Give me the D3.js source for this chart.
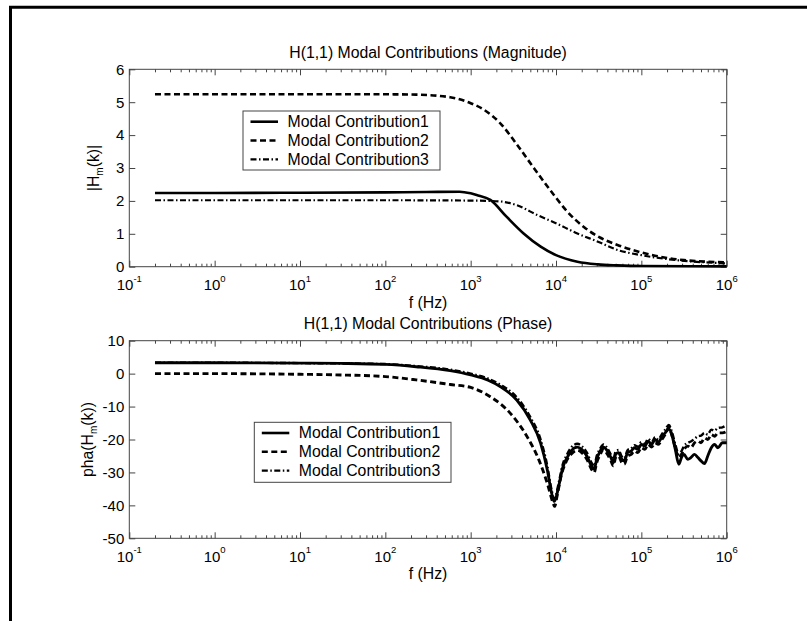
<!DOCTYPE html>
<html>
<head>
<meta charset="utf-8">
<script src="https://cdn.jsdelivr.net/npm/d3@7"></script>
<style>
  body { margin: 0; background: #fff; }
  svg { display: block; font-family: "Liberation Sans", Arial, Helvetica, sans-serif; }
</style>
</head>
<body>
<svg width="807" height="621"></svg>
<script>
// Nomes das séries (legenda).
const seriesNames = ["Modal Contribution1", "Modal Contribution2", "Modal Contribution3"];

// Magnitude |Hm(k)| - frequências (Hz) e valores.
const magFreq1 = [0.2, 1, 10, 100, 300, 741, 1000, 1175, 1700, 2630, 4170, 6610, 1e4, 1.78e4, 3.1e4, 5.2e4, 1e5, 1e6];
const magVal1 = [2.24, 2.24, 2.25, 2.26, 2.27, 2.28, 2.23, 2.18, 2.03, 1.52, 1.01, 0.61, 0.35, 0.15, 0.07, 0.04, 0.02, 0.01];
const magFreq2 = [0.2, 10, 100, 230, 575, 1000, 1413, 2239, 3467, 5495, 8710, 13490, 21380, 33110, 52480, 97720, 204200, 316200, 1e6];
const magVal2 = [5.24, 5.24, 5.24, 5.23, 5.15, 4.97, 4.78, 4.35, 3.72, 3.0, 2.3, 1.68, 1.2, 0.88, 0.66, 0.44, 0.26, 0.2, 0.13];
const magFreq3 = [0.2, 10, 100, 1000, 1700, 2450, 3470, 6030, 1e4, 1.78e4, 3.1e4, 5.25e4, 1e5, 2.04e5, 1e6];
const magVal3 = [2.02, 2.02, 2.02, 2.01, 2.0, 1.97, 1.87, 1.57, 1.32, 1.01, 0.76, 0.51, 0.35, 0.23, 0.1];

// Fase pha(Hm(k)) - frequências (Hz) e valores.
const phaFreqA = [0.2, 1, 10, 30, 100, 230, 575, 1000, 1600, 2240, 3470, 5000, 6600, 7900, 8900, 9500,
  1.1e4, 1.2e4, 1.35e4, 1.5e4, 1.78e4, 2e4, 2.3e4, 2.6e4, 2.8e4, 3e4, 3.3e4, 3.6e4, 4e4, 4.4e4,
  4.7e4, 5e4, 5.4e4, 5.9e4, 6.3e4, 6.9e4, 7.6e4, 8.3e4, 9.1e4, 1e5, 1.1e5, 1.2e5, 1.32e5, 1.45e5,
  1.58e5, 1.74e5, 1.9e5, 2.1e5, 2.3e5, 2.5e5, 2.75e5, 2.95e5, 3.16e5, 3.5e5, 3.8e5, 4.2e5, 4.6e5,
  5e5, 5.5e5, 6e5, 6.6e5, 7.2e5, 7.9e5, 8.9e5, 1e6];
const phaVal1 = [3.3, 3.3, 3.2, 3.1, 2.8, 2.1, 0.9, -0.4, -2.0, -4.0, -8.0, -14.1, -21.1, -29.2, -36.4, -38.8,
  -33, -28.5, -25.5, -23.5, -22.3, -23, -25, -28, -29, -26, -23.5, -22.3, -23.5, -25.5,
  -27, -24.5, -24, -26, -26.5, -24, -23.5, -22.5, -23, -21.5, -22, -20.5, -21.5, -20,
  -20.8, -19.2, -18, -16.8, -19, -23, -27.5, -25.5, -24.5, -26, -25.5, -24.5, -25.5,
  -26.5, -27.3, -25, -22.5, -21.5, -22.5, -21, -21];
const phaVal3 = [3.3, 3.3, 3.2, 3.1, 2.9, 2.3, 1.2, 0, -1.5, -3.4, -7.2, -13.2, -20, -28, -35.5, -38,
  -32, -27.5, -24.5, -22.5, -21.3, -22, -24, -27, -28, -25, -22.7, -21.5, -22.7, -24.6,
  -26, -23.6, -23.2, -25.2, -25.7, -23.2, -22.7, -21.7, -22.2, -20.8, -21.3, -19.8, -20.8, -19.3,
  -20, -18.4, -17, -15.6, -18, -21.5, -24.5, -23.5, -22, -21, -20.6, -19.8, -19,
  -18.8, -18, -18.5, -17, -17.3, -16.5, -16.3, -15.6];
const phaFreqB = [0.2, 1, 10, 30, 100, 230, 575, 1000, 1700, 2900, 4600, 6300, 7900, 9300, 9600,
  1.05e4, 1.15e4, 1.3e4, 1.5e4, 1.78e4, 2e4, 2.3e4, 2.6e4, 2.8e4, 3e4, 3.3e4, 3.6e4, 4e4, 4.4e4, 4.7e4,
  5e4, 5.4e4, 5.9e4, 6.3e4, 6.9e4, 7.6e4, 8.3e4, 9.1e4, 1e5, 1.1e5, 1.2e5, 1.32e5, 1.45e5, 1.58e5,
  1.74e5, 1.9e5, 2.1e5, 2.3e5, 2.5e5, 2.75e5, 2.95e5, 3.16e5, 3.5e5, 3.8e5, 4.2e5, 4.6e5, 5e5,
  5.5e5, 6e5, 6.6e5, 7.2e5, 7.9e5, 8.9e5, 1e6];
const phaVal2 = [0, 0, -0.2, -0.4, -0.9, -1.9, -3.3, -4.2, -7, -12, -19.2, -26.2, -33.3, -39.5, -40.3,
  -36, -31, -27, -24.5, -23.3, -24, -26, -29, -30, -27, -24.5, -23, -24.5, -26.5, -28,
  -25.5, -25, -27, -27.5, -25, -24.5, -23.5, -24, -22.5, -23, -21.5, -22.3, -21, -21.5,
  -20, -18.5, -16.3, -19, -22.5, -25.5, -24.5, -23, -22, -22.5, -21, -20.5, -21,
  -19.5, -20, -18.5, -19, -18, -18, -17.5];

// Ticks.
const xDecades = [1e-1, 1e0, 1e1, 1e2, 1e3, 1e4, 1e5, 1e6];
const xExponents = ["-1", "0", "1", "2", "3", "4", "5", "6"];
const magTicks = [0, 1, 2, 3, 4, 5, 6];
const phaTicks = [-50, -40, -30, -20, -10, 0, 10];

const svg = d3.select("svg");
const axisColor = "#444";
const fontSize = 15.8;

// Moldura (esquerda e topo).
svg.append("path")
  .attr("d", "M10.5,621V7.3H807")
  .attr("fill", "none")
  .attr("stroke", "#000")
  .attr("stroke-width", 3);

// Escala X (log), comum aos dois gráficos.
const x = d3.scaleLog().domain([0.1, 1e6]).range([129.3, 726.7]);
const xMinor = [];
for (let k = -1; k < 6; k++) for (let m = 2; m <= 9; m++) xMinor.push(m * Math.pow(10, k));

// Estilos das linhas.
const styles = [
  { dash: null, width: 2.6 },
  { dash: "6,3.5", width: 2.6 },
  { dash: "6,2.5,1.5,2.5", width: 2.2 }
];

function zip(f, v) { return f.map((d, i) => [d, v[i]]); }

function drawPanel(y, yTicks, title, yLabelA, yLabelB, yLabelX, series, legend, lineScale) {
  const g = svg.append("g");
  const [x0, x1] = x.range();
  const [yb, yt] = y.range();

  // Caixa dos eixos.
  g.append("rect")
    .attr("x", x0).attr("y", yt)
    .attr("width", x1 - x0).attr("height", yb - yt)
    .attr("fill", "none").attr("stroke", axisColor);

  const clean = a => { a.select(".domain").remove(); a.selectAll("line").attr("stroke", axisColor); };

  // Ticks para dentro, nos quatro lados.
  [[d3.axisBottom, yb], [d3.axisTop, yt]].forEach(([ax, pos]) => {
    g.append("g").attr("transform", `translate(0,${pos})`)
      .call(ax(x).tickValues(xDecades).tickSize(-6).tickFormat("")).call(clean);
    g.append("g").attr("transform", `translate(0,${pos})`)
      .call(ax(x).tickValues(xMinor).tickSize(-3).tickFormat("")).call(clean);
  });
  [[d3.axisLeft, x0], [d3.axisRight, x1]].forEach(([ax, pos]) => {
    g.append("g").attr("transform", `translate(${pos},0)`)
      .call(ax(y).tickValues(yTicks).tickSize(-6).tickFormat("")).call(clean);
  });

  // Rótulos do eixo X (10^n).
  xDecades.forEach((d, i) => {
    const t = g.append("text")
      .attr("x", x(d)).attr("y", yb + 23.3)
      .attr("text-anchor", "middle")
      .attr("font-size", 15);
    t.append("tspan").text("10");
    t.append("tspan").attr("dy", -8.5).attr("font-size", 9.5).text(xExponents[i]);
  });

  // Rótulos do eixo Y.
  g.selectAll(".ylab").data(yTicks).enter().append("text")
    .attr("x", x0 - 5)
    .attr("y", d => y(d) + 5.3)
    .attr("text-anchor", "end")
    .attr("font-size", 15)
    .text(d => String(d));

  // Título e rótulo X.
  g.append("text")
    .attr("x", (x0 + x1) / 2).attr("y", yt - 11.5)
    .attr("text-anchor", "middle").attr("font-size", fontSize)
    .text(title);
  g.append("text")
    .attr("x", (x0 + x1) / 2).attr("y", yb + 41)
    .attr("text-anchor", "middle").attr("font-size", fontSize)
    .text("f (Hz)");

  // Rótulo Y com subscrito m.
  const yl = g.append("text")
    .attr("transform", `translate(${yLabelX},${(yt + yb) / 2}) rotate(-90)`)
    .attr("text-anchor", "middle").attr("font-size", fontSize);
  yl.append("tspan").text(yLabelA);
  yl.append("tspan").attr("dy", 4).attr("font-size", 10).text("m");
  yl.append("tspan").attr("dy", -4).text(yLabelB);

  // Curvas.
  const line = d3.line()
    .x(d => x(d[0]))
    .y(d => y(d[1]))
    .curve(d3.curveMonotoneX);
  series.forEach((s, i) => {
    g.append("path")
      .datum(s)
      .attr("d", line)
      .attr("fill", "none")
      .attr("stroke", "#000")
      .attr("stroke-width", styles[i].width * lineScale)
      .attr("stroke-dasharray", styles[i].dash)
      .attr("stroke-linejoin", "round");
  });

  // Legenda.
  const lg = g.append("g").attr("transform", `translate(${legend.x},${legend.y})`);
  lg.append("rect")
    .attr("width", legend.w).attr("height", legend.h)
    .attr("fill", "#fff").attr("stroke", axisColor);
  seriesNames.forEach((name, i) => {
    const ry = 10.7 + i * 18.8;
    lg.append("line")
      .attr("x1", 7.5).attr("x2", 35).attr("y1", ry).attr("y2", ry)
      .attr("stroke", "#000")
      .attr("stroke-width", styles[i].width)
      .attr("stroke-dasharray", styles[i].dash);
    lg.append("text")
      .attr("x", 44.5).attr("y", ry + 5.5)
      .attr("font-size", fontSize)
      .text(name);
  });
}

// Gráfico de magnitude.
const yMag = d3.scaleLinear().domain([0, 6]).range([266.7, 69.3]);
drawPanel(yMag, magTicks, "H(1,1) Modal Contributions (Magnitude)", "|H", "(k)|", 99,
  [zip(magFreq1, magVal1), zip(magFreq2, magVal2), zip(magFreq3, magVal3)],
  { x: 243, y: 111, w: 197, h: 59 }, 1);

// Gráfico de fase.
const yPha = d3.scaleLinear().domain([-50, 10]).range([538.3, 340.7]);
drawPanel(yPha, phaTicks, "H(1,1) Modal Contributions (Phase)", "pha(H", "(k))", 93.4,
  [zip(phaFreqA, phaVal1), zip(phaFreqB, phaVal2), zip(phaFreqA, phaVal3)],
  { x: 254.3, y: 422.3, w: 196.7, h: 60 }, 1.1);
</script>
</body>
</html>
